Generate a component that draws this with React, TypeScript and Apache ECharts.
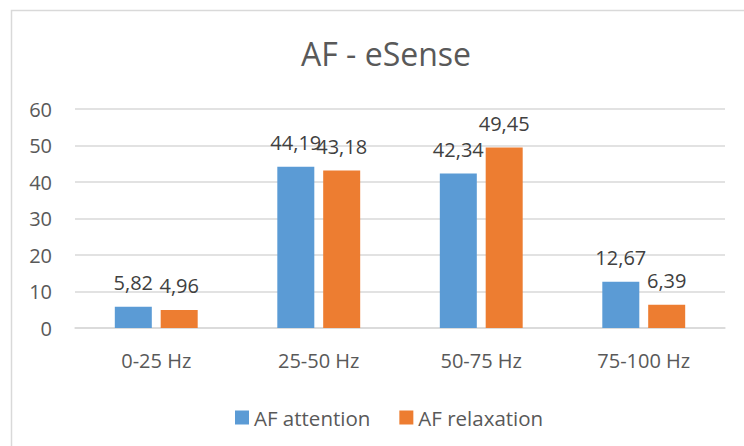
import React, { useEffect, useRef } from "react";
import * as echarts from "echarts";

const categories = ["0-25 Hz", "25-50 Hz", "50-75 Hz", "75-100 Hz"];
const attention = [5.82, 44.19, 42.34, 12.67];
const relaxation = [4.96, 43.18, 49.45, 6.39];
const seriesNames = ["AF attention", "AF relaxation"];
const titleText = "AF - eSense";

const FONT = "'Open Sans', sans-serif";

export default function App() {
  const ref = useRef<HTMLDivElement>(null);
  useEffect(() => {
    if (!ref.current) return;
    const chart = echarts.init(ref.current, null, { renderer: "svg" });
    const fmt = (p: any) => Number(p.value).toFixed(2).replace(".", ",");
    const labelCfg = {
      show: true,
      position: "top",
      distance: 14,
      formatter: fmt,
      color: "#404040",
      fontSize: 20,
      fontFamily: FONT,
    };
    chart.setOption({
      animation: false,
      backgroundColor: "#ffffff",
      textStyle: { fontFamily: FONT },
      title: {
        text: titleText,
        left: 296,
        top: 32,
        textStyle: { color: "#595959", fontSize: 32, fontWeight: "normal", fontFamily: FONT },
      },
      graphic: [
        {
          type: "rect",
          shape: { x: 11.5, y: 10.5, width: 760, height: 460 },
          style: { fill: "none", stroke: "#d9d9d9", lineWidth: 1.5 },
          silent: true,
        },
      ],
      legend: {
        data: seriesNames,
        left: 230,
        top: 402,
        itemWidth: 14,
        itemHeight: 14,
        itemGap: 29,
        icon: "rect",
        textStyle: { color: "#595959", fontSize: 20.5, fontFamily: FONT },
      },
      grid: { left: 75, right: 19, top: 109, bottom: 118, containLabel: false },
      xAxis: {
        type: "category",
        data: categories,
        axisLine: { lineStyle: { color: "#d9d9d9", width: 1.5 } },
        axisTick: { show: false },
        axisLabel: { color: "#595959", fontSize: 20, margin: 22, fontFamily: FONT },
      },
      yAxis: {
        type: "value",
        min: 0,
        max: 60,
        interval: 10,
        axisLine: { show: false },
        axisTick: { show: false },
        splitLine: { lineStyle: { color: "#d9d9d9", width: 1.5 } },
        axisLabel: { color: "#595959", fontSize: 20, margin: 23, fontFamily: FONT },
      },
      series: [
        {
          name: seriesNames[0],
          type: "bar",
          data: attention,
          barWidth: 37,
          barGap: "24%",
          itemStyle: { color: "#5b9bd5" },
          label: labelCfg,
        },
        {
          name: seriesNames[1],
          type: "bar",
          data: relaxation,
          barWidth: 37,
          barGap: "24%",
          itemStyle: { color: "#ed7d31" },
          label: labelCfg,
        },
      ],
    });
    return () => chart.dispose();
  }, []);
  return (
    <div
      ref={ref}
      style={{ position: "fixed", left: 0, top: 0, width: 744, height: 446 }}
    />
  );
}
